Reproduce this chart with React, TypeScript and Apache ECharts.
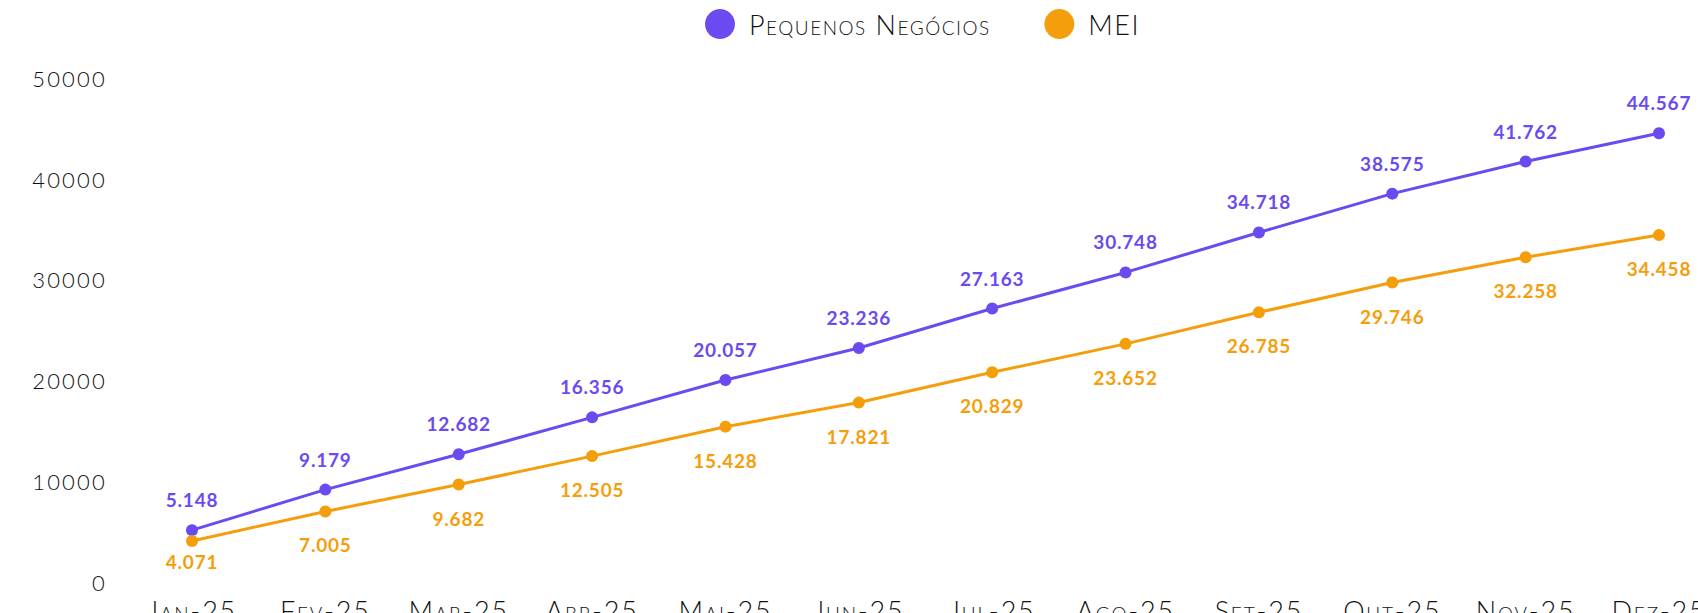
import React, { useEffect, useRef } from "react";
import * as echarts from "echarts";

const months = ["Jan-25", "Fev-25", "Mar-25", "Abr-25", "Mai-25", "Jun-25", "Jul-25", "Ago-25", "Set-25", "Out-25", "Nov-25", "Dez-25"];
const pequenosNegocios = [5148, 9179, 12682, 16356, 20057, 23236, 27163, 30748, 34718, 38575, 41762, 44567];
const mei = [4071, 7005, 9682, 12505, 15428, 17821, 20829, 23652, 26785, 29746, 32258, 34458];
const seriesNames = ["Pequenos Negócios", "MEI"];
const yTicks = { min: 0, max: 50000, interval: 10000 };

const PURPLE = "#6b4bf0";
const ORANGE = "#f59e0b";
const LEGEND_INK = "#121212";
const XAXIS_INK = "#111111";
const YAXIS_INK = "#101010";
const FONT = "Lato, 'Open Sans', sans-serif";

function fmt(v: number): string {
  return String(v).replace(/\B(?=(\d{3})+(?!\d))/g, ".");
}

const css = `
#chart text { font-variant-caps: small-caps !important; }
#chart text[fill="${LEGEND_INK}"] { letter-spacing: 1.5px; }
#chart text[fill="${XAXIS_INK}"] { letter-spacing: 1.8px; }
#chart text[fill="${YAXIS_INK}"] { letter-spacing: 2.2px; }
#chart text[fill="${PURPLE}"], #chart text[fill="${ORANGE}"] { letter-spacing: 0.8px; }
`;

export default function App() {
  const ref = useRef<HTMLDivElement>(null);
  useEffect(() => {
    if (!ref.current) return;
    const chart = echarts.init(ref.current, undefined, { renderer: "svg" });
    chart.setOption({
      animation: false,
      backgroundColor: "#ffffff",
      legend: {
        top: 4,
        left: 700,
        itemWidth: 48,
        itemHeight: 30,
        itemGap: 66,
        icon: "circle",
        textStyle: { fontFamily: FONT, fontSize: 27, fontWeight: 300, color: LEGEND_INK },
        data: seriesNames,
      },
      grid: { left: 192, right: 39, top: 78.6, bottom: 31, containLabel: false, outerBoundsMode: "none" } as any,
      xAxis: {
        type: "category",
        data: months,
        boundaryGap: false,
        axisLine: { show: false },
        axisTick: { show: false },
        splitLine: { show: false },
        axisLabel: { fontFamily: FONT, fontSize: 27, fontWeight: 300, color: XAXIS_INK, margin: 15 },
      },
      yAxis: {
        type: "value",
        min: yTicks.min,
        max: yTicks.max,
        interval: yTicks.interval,
        axisLine: { show: false },
        axisTick: { show: false },
        splitLine: { show: false },
        axisLabel: {
          fontFamily: FONT,
          fontSize: 22,
          fontWeight: 300,
          color: YAXIS_INK,
          margin: 85,
          formatter: (v: number) => String(v),
        },
      },
      series: [
        {
          name: seriesNames[0],
          type: "line",
          data: pequenosNegocios,
          color: PURPLE,
          symbol: "circle",
          symbolSize: 12,
          lineStyle: { width: 3, color: PURPLE },
          itemStyle: { color: PURPLE },
          label: {
            show: true,
            position: "top",
            distance: 15,
            color: PURPLE,
            fontFamily: FONT,
            fontWeight: "bold",
            fontSize: 19,
            formatter: (p: any) => fmt(p.value),
          },
        },
        {
          name: seriesNames[1],
          type: "line",
          data: mei.map((v, i) => (i === 0 ? { value: v, label: { distance: 5 } } : v)),
          color: ORANGE,
          symbol: "circle",
          symbolSize: 12,
          lineStyle: { width: 3, color: ORANGE },
          itemStyle: { color: ORANGE },
          label: {
            show: true,
            position: "bottom",
            distance: 18,
            color: ORANGE,
            fontFamily: FONT,
            fontWeight: "bold",
            fontSize: 19,
            formatter: (p: any) => fmt(p.value),
          },
        },
      ],
    });
    return () => chart.dispose();
  }, []);
  return (
    <>
      <style>{css}</style>
      <div
        id="chart"
        ref={ref}
        style={{ position: "fixed", left: 0, top: 0, width: 1698, height: 613, background: "#fff" }}
      />
    </>
  );
}
